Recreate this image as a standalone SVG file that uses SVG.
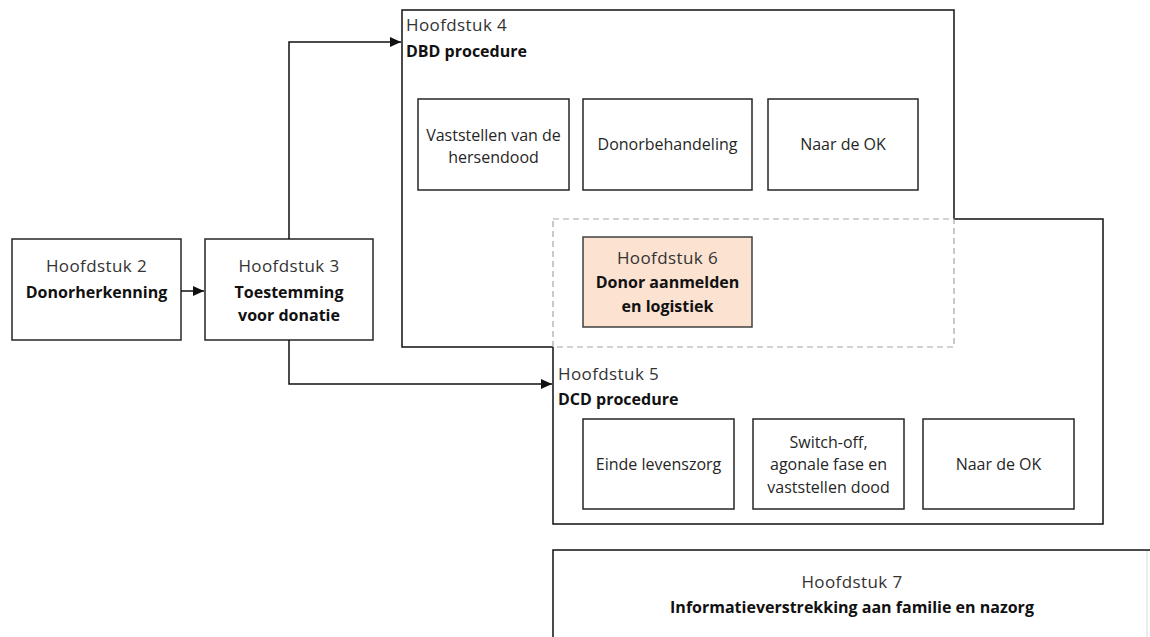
<svg xmlns="http://www.w3.org/2000/svg" width="1150" height="637" viewBox="0 0 1150 637">
<style>
.bg{fill:#ffffff}
.box{fill:#ffffff;stroke:#262626;stroke-width:1.5}
.frame{fill:none;stroke:#111111;stroke-width:1.5}
.dash{fill:none;stroke:#a6a6a6;stroke-width:1.2;stroke-dasharray:6 4}
.hl{fill:#fbe2d1;stroke:#404040;stroke-width:1.5}
.t{font-family:"Open Sans","Liberation Sans",sans-serif;font-size:16px;fill:#262626}
.h{font-family:"Open Sans","Liberation Sans",sans-serif;font-size:17px;fill:#333333;letter-spacing:0.4px}
.b{font-family:"Open Sans","Liberation Sans",sans-serif;font-size:16px;font-weight:bold;fill:#111111}
.c{text-anchor:middle}
.conn{fill:none;stroke:#111111;stroke-width:1.5}
</style>
<defs>
<marker id="arr" markerUnits="userSpaceOnUse" markerWidth="12" markerHeight="11" refX="11" refY="5" orient="auto">
<path d="M0,0 L11,5 L0,10 z" fill="#111111"/>
</marker>
</defs>
<rect class="bg" x="0" y="0" width="1150" height="637"/>

<g id="hoofdstuk2">
<rect class="box" x="12" y="239" width="169" height="101"/>
<text class="h c" x="96.5" y="272">Hoofdstuk 2</text>
<text class="b c" x="96.5" y="298">Donorherkenning</text>
</g>

<g id="hoofdstuk3">
<rect class="box" x="205" y="239" width="168" height="101"/>
<text class="h c" x="289" y="272">Hoofdstuk 3</text>
<text class="b c" x="289" y="298">Toestemming</text>
<text class="b c" x="289" y="321">voor donatie</text>
</g>

<g id="hoofdstuk4">
<path class="frame" d="M553,347 H402 V10 H954 V219"/>
<text class="h" x="406" y="31">Hoofdstuk 4</text>
<text class="b" x="406" y="57">DBD procedure</text>
<g id="dbd-hersendood">
<rect class="box" x="418" y="99" width="151" height="91"/>
<text class="t c" x="493.5" y="141">Vaststellen van de</text>
<text class="t c" x="493.5" y="163">hersendood</text>
</g>
<g id="dbd-donorbehandeling">
<rect class="box" x="583" y="99" width="169" height="91"/>
<text class="t c" x="667.5" y="150">Donorbehandeling</text>
</g>
<g id="dbd-ok">
<rect class="box" x="768" y="99" width="150" height="91"/>
<text class="t c" x="843" y="150">Naar de OK</text>
</g>
</g>

<g id="hoofdstuk5">
<path class="frame" d="M954,219 H1103 V524 H553 V347"/>
<text class="h" x="558" y="380">Hoofdstuk 5</text>
<text class="b" x="558" y="405">DCD procedure</text>
<g id="dcd-levenszorg">
<rect class="box" x="583" y="419" width="151" height="90"/>
<text class="t c" x="658.5" y="470">Einde levenszorg</text>
</g>
<g id="dcd-switchoff">
<rect class="box" x="753" y="419" width="151" height="90"/>
<text class="t c" x="828.5" y="448">Switch-off,</text>
<text class="t c" x="828.5" y="470">agonale fase en</text>
<text class="t c" x="828.5" y="493">vaststellen dood</text>
</g>
<g id="dcd-ok">
<rect class="box" x="923" y="419" width="151" height="90"/>
<text class="t c" x="998.5" y="470">Naar de OK</text>
</g>
</g>

<g id="hoofdstuk6">
<rect class="dash" x="553" y="219" width="401" height="128"/>
<rect class="hl" x="583" y="237" width="169" height="90"/>
<text class="h c" x="667.5" y="264">Hoofdstuk 6</text>
<text class="b c" x="667.5" y="288">Donor aanmelden</text>
<text class="b c" x="667.5" y="312">en logistiek</text>
</g>

<g id="hoofdstuk7">
<path d="M1147,550 V637" fill="none" stroke="#d9d9d9" stroke-width="1"/>
<path class="frame" d="M553,637 V550 H1150" stroke="#333333"/>
<text class="h c" x="852" y="588">Hoofdstuk 7</text>
<text class="b c" x="852" y="613">Informatieverstrekking aan familie en nazorg</text>
</g>

<g id="connectors">
<path class="conn" d="M181,291 H204" marker-end="url(#arr)"/>
<path class="conn" d="M289,239 V42 H401" marker-end="url(#arr)"/>
<path class="conn" d="M289,340 V384 H552" marker-end="url(#arr)"/>
</g>
</svg>
